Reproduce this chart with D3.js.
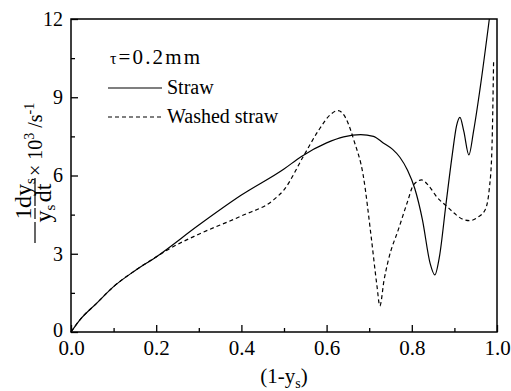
<!DOCTYPE html>
<html>
<head>
<meta charset="utf-8">
<script src="https://cdn.jsdelivr.net/npm/d3@7"></script>
<style>
    body { margin: 0; background: #fff; }
    svg text { font-family: "Liberation Serif", "DejaVu Serif", Times, serif !important; fill: #000; }
</style>
</head>
<body>
<svg id="chart"></svg>
<script>
// values
const strawX = [0, 0.02, 0.06, 0.1, 0.15, 0.2, 0.3, 0.4, 0.5, 0.54, 0.6, 0.64, 0.68, 0.71, 0.733, 0.755, 0.772, 0.79, 0.807, 0.825, 0.843, 0.854, 0.865, 0.88, 0.895, 0.905, 0.913, 0.922, 0.934, 0.945, 0.96, 0.982];
const strawY = [0, 0.45, 1.1, 1.74, 2.35, 2.88, 4.1, 5.25, 6.25, 6.72, 7.25, 7.48, 7.57, 7.5, 7.25, 7.0, 6.7, 6.2, 5.5, 4.3, 2.63, 2.19, 2.9, 4.87, 6.8, 7.9, 8.23, 7.7, 6.79, 7.7, 9.3, 12.0];

const washedX = [0, 0.02, 0.06, 0.1, 0.15, 0.2, 0.232, 0.3, 0.4, 0.475, 0.5, 0.545, 0.58, 0.61, 0.627, 0.645, 0.665, 0.686, 0.705, 0.718, 0.725, 0.735, 0.745, 0.77, 0.79, 0.804, 0.823, 0.84, 0.86, 0.88, 0.9, 0.92, 0.937, 0.955, 0.972, 0.982, 0.988, 0.992];
const washedY = [0, 0.45, 1.1, 1.74, 2.35, 2.88, 3.2, 3.75, 4.45, 5.06, 5.45, 6.72, 7.7, 8.35, 8.49, 8.2, 7.3, 6.0, 3.6, 1.8, 1.0, 2.0, 2.76, 4.0, 5.0, 5.64, 5.83, 5.6, 5.15, 4.85, 4.55, 4.32, 4.27, 4.4, 4.68, 5.5, 6.98, 10.36];

const xTicks = [0, 0.2, 0.4, 0.6, 0.8, 1.0];
const xMinorTicks = [0.1, 0.3, 0.5, 0.7, 0.9];
const yTicks = [0, 3, 6, 9, 12];
const yMinorTicks = [1.5, 4.5, 7.5, 10.5];

const seriesNames = ['Straw', 'Washed straw'];

const SERIF = '"Liberation Serif", "DejaVu Serif", Times, serif';

class RateChart {

    constructor( config, series ) {
        this.config = {
            parent: config.parent,
            width: config.width || 511,
            height: config.height || 391,
            margin: config.margin || { top: 19, right: 14, bottom: 59, left: 71 }
        }
        this.series = series;
        this.init();
    }

    init() {
        let self = this;

        self.svg = d3.select( self.config.parent )
            .attr('width', self.config.width)
            .attr('height', self.config.height)
            .attr('font-family', SERIF);

        self.inner_width = self.config.width - self.config.margin.left - self.config.margin.right;
        self.inner_height = self.config.height - self.config.margin.top - self.config.margin.bottom;

        self.chart = self.svg.append('g')
            .attr('transform', `translate(${self.config.margin.left}, ${self.config.margin.top})`);

        self.xscale = d3.scaleLinear().domain([0, 1]).range([0, self.inner_width]);
        self.yscale = d3.scaleLinear().domain([0, 12]).range([self.inner_height, 0]);
    }

    render() {
        let self = this;

        const line = d3.line()
            .x( d => self.xscale(d[0]) )
            .y( d => self.yscale(d[1]) )
            .curve(d3.curveMonotoneX);

        self.chart.selectAll('path.curve')
            .data( self.series )
            .enter()
            .append('path')
            .attr('class', 'curve')
            .attr('d', d => line(d.points))
            .attr('fill', 'none')
            .attr('stroke', '#000')
            .attr('stroke-width', 1.2)
            .attr('stroke-dasharray', d => d.dash);

        // bottom axis, ticks inside
        const xaxis = self.chart.append('g')
            .attr('transform', `translate(0, ${self.inner_height})`)
            .call( d3.axisBottom(self.xscale).tickValues(xTicks).tickSize(-7).tickFormat(d3.format('.1f')) );
        self.chart.append('g')
            .attr('transform', `translate(0, ${self.inner_height})`)
            .call( d3.axisBottom(self.xscale).tickValues(xMinorTicks).tickSize(-4).tickFormat('') )
            .select('.domain').remove();
        xaxis.selectAll('text')
            .attr('y', 8)
            .attr('dy', '0.71em')
            .style('font-size', '21px');

        // left axis, ticks inside
        const yaxis = self.chart.append('g')
            .call( d3.axisLeft(self.yscale).tickValues(yTicks).tickSize(-7) );
        self.chart.append('g')
            .call( d3.axisLeft(self.yscale).tickValues(yMinorTicks).tickSize(-4).tickFormat('') )
            .select('.domain').remove();
        yaxis.selectAll('text')
            .attr('x', -8)
            .attr('dy', d => d === 0 ? '0.2em' : '0.32em')
            .style('font-size', '20px');

        self.chart.selectAll('g').attr('font-family', SERIF);
        self.chart.selectAll('.tick line').attr('stroke-width', 1.3);
        self.chart.selectAll('.domain').remove();

        // frame
        self.chart.append('rect')
            .attr('width', self.inner_width)
            .attr('height', self.inner_height)
            .attr('fill', 'none')
            .attr('stroke', '#000')
            .attr('stroke-width', 1.5);

        self.legend();
        self.labels();
    }

    legend() {
        let self = this;

        const t = self.svg.append('text')
            .attr('x', 110)
            .attr('y', 64)
            .attr('textLength', 90)
            .attr('lengthAdjust', 'spacing')
            .style('font-size', '21px');
        t.append('tspan').style('font-size', '16px').text('τ');
        t.append('tspan').text('=0.2mm');

        const items = self.svg.selectAll('g.legend-item')
            .data( self.series )
            .enter()
            .append('g')
            .attr('class', 'legend-item')
            .attr('transform', (d, i) => `translate(108, ${88 + i * 29})`);

        items.append('line')
            .attr('x1', 0)
            .attr('x2', 54)
            .attr('stroke', '#000')
            .attr('stroke-width', 1.2)
            .attr('stroke-dasharray', d => d.dash);

        items.append('text')
            .attr('x', 59)
            .attr('y', 6)
            .style('font-size', '20px')
            .text( d => d.name );
    }

    labels() {
        let self = this;

        const xt = self.svg.append('text')
            .attr('x', 284)
            .attr('y', 383)
            .attr('text-anchor', 'middle')
            .style('font-size', '21px');
        xt.append('tspan').text('(1-y');
        xt.append('tspan').attr('dy', 5).style('font-size', '14px').text('s');
        xt.append('tspan').attr('dy', -5).text(')');

        // rotated y title: -(1/ys)(dys/dt) x 10^3 /s^-1
        const g = self.svg.append('g')
            .attr('transform', 'translate(35, 243) rotate(-90)');

        const bar = (x1, x2) => g.append('line')
            .attr('x1', x1).attr('x2', x2)
            .attr('stroke', '#000').attr('stroke-width', 1.2);
        bar(0, 21);
        bar(24, 35);
        bar(37, 65);

        g.append('text')
            .attr('x', 29.5).attr('y', -4)
            .attr('text-anchor', 'middle')
            .style('font-size', '24px')
            .text('1');

        const ys = g.append('text')
            .attr('x', 29.5).attr('y', 16)
            .attr('text-anchor', 'middle')
            .style('font-size', '24px');
        ys.append('tspan').text('y');
        ys.append('tspan').attr('dy', 4).style('font-size', '15px').text('s');

        const dy = g.append('text')
            .attr('x', 50).attr('y', -4)
            .attr('text-anchor', 'middle')
            .style('font-size', '24px');
        dy.append('tspan').text('dy');
        dy.append('tspan').attr('dy', 4).style('font-size', '15px').text('s');

        g.append('text')
            .attr('x', 50).attr('y', 16)
            .attr('text-anchor', 'middle')
            .style('font-size', '24px')
            .text('dt');

        const unit = g.append('text')
            .attr('x', 67).attr('y', 7)
            .style('font-size', '20px');
        unit.append('tspan').text('× 10');
        unit.append('tspan').attr('dy', -8).style('font-size', '14px').text('3');
        unit.append('tspan').attr('dy', 8).text(' /s');
        unit.append('tspan').attr('dy', -8).style('font-size', '14px').text('-1');
    }

}

const series = [
    { name: seriesNames[0], dash: null, points: strawX.map( (x, i) => [x, strawY[i]] ) },
    { name: seriesNames[1], dash: '4,3', points: washedX.map( (x, i) => [x, washedY[i]] ) }
];

let chart = new RateChart( { parent: '#chart', width: 511, height: 391 }, series );
chart.render();
</script>
</body>
</html>
